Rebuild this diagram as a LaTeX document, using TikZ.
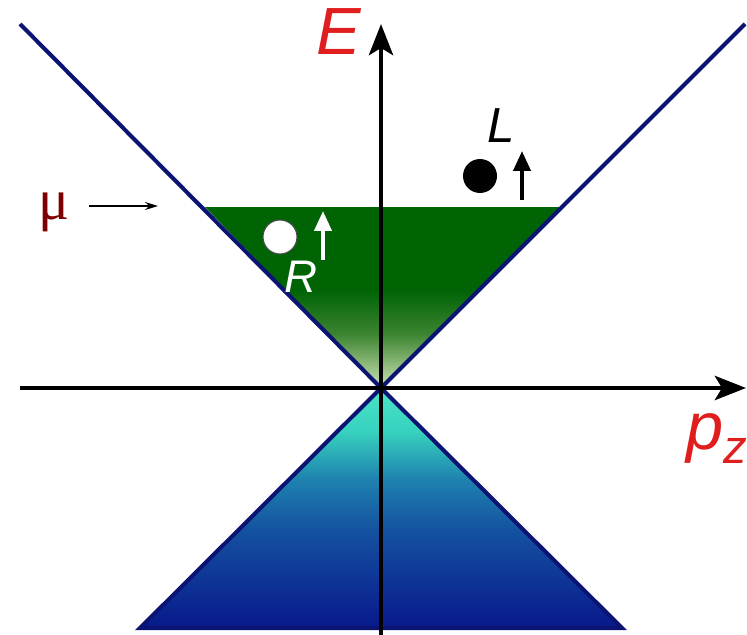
\documentclass[tikz,border=0pt]{standalone}
\usepackage{fontspec}
\setmainfont{Liberation Sans}
\newfontfamily\symbfont{Liberation Serif}
\usetikzlibrary{arrows.meta,calc,positioning,shapes}

\definecolor{conenavy}{RGB}{12,20,115}
\definecolor{seadark}{RGB}{0,100,5}
\definecolor{seamid}{RGB}{60,132,48}
\definecolor{seapale}{RGB}{205,228,180}
\definecolor{bandtop}{RGB}{75,228,200}
\definecolor{bandcyan}{RGB}{55,210,190}
\definecolor{bandteal}{RGB}{30,130,175}
\definecolor{bandmid}{RGB}{20,80,160}
\definecolor{banddark}{RGB}{8,25,140}
\definecolor{labelred}{RGB}{225,30,30}
\definecolor{mured}{RGB}{125,0,0}

\pgfdeclareverticalshading{fermisea}{100bp}{color(0bp)=(seapale); color(25bp)=(seapale);
  color(40bp)=(seamid); color(52bp)=(seadark); color(100bp)=(seadark)}
\pgfdeclareverticalshading{lowerband}{100bp}{color(0bp)=(banddark); color(25bp)=(banddark);
  color(45bp)=(bandmid); color(56bp)=(bandteal); color(66bp)=(bandcyan); color(75bp)=(bandtop); color(100bp)=(bandtop)}

\begin{document}
\begin{tikzpicture}[x=0.02cm,y=-0.02cm,
  axis/.style={line width=2.8pt,-{Stealth[length=0.62cm,width=0.48cm,inset=0.14cm]}},
  cone/.style={conenavy,line width=2.3pt},
  spin/.style={line width=2.3pt,-{Triangle[length=0.4cm,width=0.34cm]}},
  axislabel/.style={labelred,inner sep=0pt,anchor=base west,font=\fontsize{38}{38}\selectfont\itshape},
  chirality/.style={inner sep=0pt,anchor=base west,font=\fontsize{26}{26}\selectfont\itshape},
  particle/.style={circle,inner sep=0pt,minimum size=0.68cm}]
  \useasboundingbox (0,0) rectangle (747,635);
  % Filled states above the node
  \shade[shading=fermisea] (205,207) -- (562,207) -- (381,388) -- cycle;
  % Lower band
  \shade[shading=lowerband] (381,388) -- (622,628) -- (140,628) -- cycle;
  \draw[cone] (140,628) -- (381,388) -- (622,628) -- cycle;
  % Weyl cone
  \draw[cone] (20,24) -- (381,388) -- (745,24);
  % Axes
  \draw[axis] (381,635) -- (381,24);
  \draw[axis] (20,388) -- (746,388);
  \node[axislabel] (energy) at (316,55) {E};
  \node[axislabel] (momentum) at (686,449) {p\raisebox{-8.5pt}{\fontsize{27}{27}\selectfont z}};
  % Chemical potential
  \node[mured,inner sep=0pt,anchor=base west,font=\symbfont\fontsize{33}{33}\selectfont] (mu) at (38,219) {μ};
  \coordinate (mutip) at (158,206);
  \draw[line width=1.1pt,-{Stealth[length=0.26cm,width=0.16cm]},shorten <=0.38cm] (mu.east |- mutip) -- (mutip);
  % Right-handed hole
  \node[particle,draw=black!70,line width=0.6pt,fill=white] (hole) at (280,237) {};
  \draw[spin,white] (323,260) -- (323,211);
  \node[chirality,white] (rlabel) at (284,292) {R};
  % Left-handed electron
  \node[particle,fill=black] (electron) at (480,176) {};
  \draw[spin,black] (522,200) -- (522,151);
  \node[chirality,black,font=\fontsize{28}{28}\selectfont\itshape] (llabel) at (487,142) {L};
\end{tikzpicture}
\end{document}
